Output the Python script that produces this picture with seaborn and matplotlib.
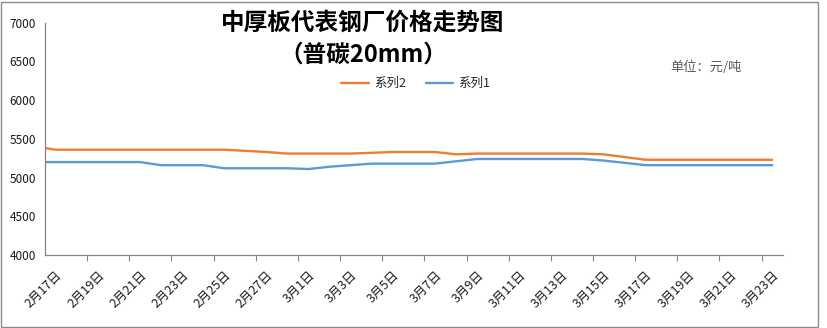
import numpy as np
import pandas as pd
import matplotlib
matplotlib.use("Agg")
import matplotlib.pyplot as plt
import seaborn as sns
from matplotlib.patches import Rectangle

# Daily categories (the first one sits just left of the visible range)
dates = [
    "2月16日", "2月17日", "2月18日", "2月19日", "2月20日", "2月21日", "2月22日",
    "2月23日", "2月24日", "2月25日", "2月26日", "2月27日", "2月28日",
    "3月1日", "3月2日", "3月3日", "3月4日", "3月5日", "3月6日", "3月7日",
    "3月8日", "3月9日", "3月10日", "3月11日", "3月12日", "3月13日", "3月14日",
    "3月15日", "3月16日", "3月17日", "3月18日", "3月19日", "3月20日",
    "3月21日", "3月22日", "3月23日",
]

series2 = [
    5400,
    5360, 5360, 5360, 5360, 5360, 5360, 5360, 5360, 5360,
    5345, 5330, 5310, 5310, 5310, 5310, 5320, 5330, 5330, 5330,
    5300, 5310, 5310, 5310, 5310, 5310, 5310, 5300, 5265,
    5230, 5230, 5230, 5230, 5230, 5230, 5230,
]
series1 = [
    5200,
    5200, 5200, 5200, 5200, 5200, 5160, 5160, 5160,
    5120, 5120, 5120, 5120, 5110, 5140, 5160,
    5180, 5180, 5180, 5180, 5210,
    5240, 5240, 5240, 5240, 5240, 5240, 5220, 5190,
    5160, 5160, 5160, 5160, 5160, 5160, 5160,
]

series_names = ["系列2", "系列1"]
colors = {"系列2": "#ED7D31", "系列1": "#5B9BD5"}

sns.set_theme(style="white")
plt.rcParams["font.family"] = ["Noto Sans CJK SC", "DejaVu Sans"]
plt.rcParams["axes.unicode_minus"] = False

pos = np.arange(len(dates)) - 1
df = pd.DataFrame({
    "pos": np.concatenate([pos, pos]),
    "price": series2 + series1,
    "series": [series_names[0]] * len(dates) + [series_names[1]] * len(dates),
})

W, H = 828, 328
fig = plt.figure(figsize=(W / 100, H / 100), dpi=100)
fig.patch.set_facecolor("white")
x0, x1, ytop, ybot = 45, 782.7, 22.7, 255
ax = fig.add_axes([x0 / W, 1 - ybot / H, (x1 - x0) / W, (ybot - ytop) / H])

sns.lineplot(data=df, x="pos", y="price", hue="series", palette=colors,
             linewidth=1.7, ax=ax, legend=False, sort=False)

ax.set_xlim(-0.5, 34.5)
ax.set_ylim(4000, 7000)
ax.set_xlabel("")
ax.set_ylabel("")
ax.grid(False)

axis_color = "#868686"
for side in ["top", "right"]:
    ax.spines[side].set_visible(False)
for side in ["left", "bottom"]:
    ax.spines[side].set_color(axis_color)
    ax.spines[side].set_linewidth(0.9)

# value axis
ax.set_yticks(np.arange(4000, 7001, 500))
ax.tick_params(axis="y", direction="out", length=3.8, width=0.8,
               color=axis_color, labelsize=8.5, pad=2.5, labelcolor="#1a1a1a")

# category axis: labels every other day, small inner ticks between days
label_pos = pos[1::2]
ax.set_xticks(label_pos)
ax.set_xticklabels(dates[1::2], rotation=45, ha="right", va="top",
                   rotation_mode="anchor")
ax.tick_params(axis="x", which="major", length=0, labelsize=9, pad=10,
               labelcolor="#1a1a1a")
ax.set_xticks(np.arange(-0.5, 34.6, 1), minor=True)
ax.tick_params(axis="x", which="minor", direction="in", length=2.2,
               width=0.8, color=axis_color)

sec = ax.secondary_xaxis("bottom")
sec.set_xticks(np.arange(1.5, 34, 2))
sec.tick_params(axis="x", direction="out", length=4.2, width=0.8,
                color=axis_color, labelbottom=False)
sec.spines["bottom"].set_visible(False)

# legend
handles = [plt.Line2D([], [], color=colors[n], lw=1.7) for n in series_names]
fig.legend(handles, series_names, loc="center", ncol=2, frameon=False,
           bbox_to_anchor=(416 / W, 1 - 83.5 / H), fontsize=9,
           handlelength=2.2, handletextpad=0.4, columnspacing=1.6)

# titles and unit note
fig.text(363 / W, 1 - 23 / H, "中厚板代表钢厂价格走势图", ha="center",
         va="center", fontsize=17, fontweight="bold", color="#000000")
fig.text(363 / W, 1 - 55 / H, "（普碳20mm）", ha="center", va="center",
         fontsize=17, fontweight="bold", color="#000000")
fig.text(706 / W, 1 - 67 / H, "单位：元/吨", ha="center", va="center",
         fontsize=9.5, color="#595959")

# chart frame
fig.add_artist(Rectangle((1.5 / W, 1 - 326.5 / H), (818 - 1.5) / W,
                         (326.5 - 1.5) / H, transform=fig.transFigure,
                         fill=False, edgecolor="#8c8c8c", linewidth=1.0))

fig.savefig("out.png", dpi=100, facecolor="white")
